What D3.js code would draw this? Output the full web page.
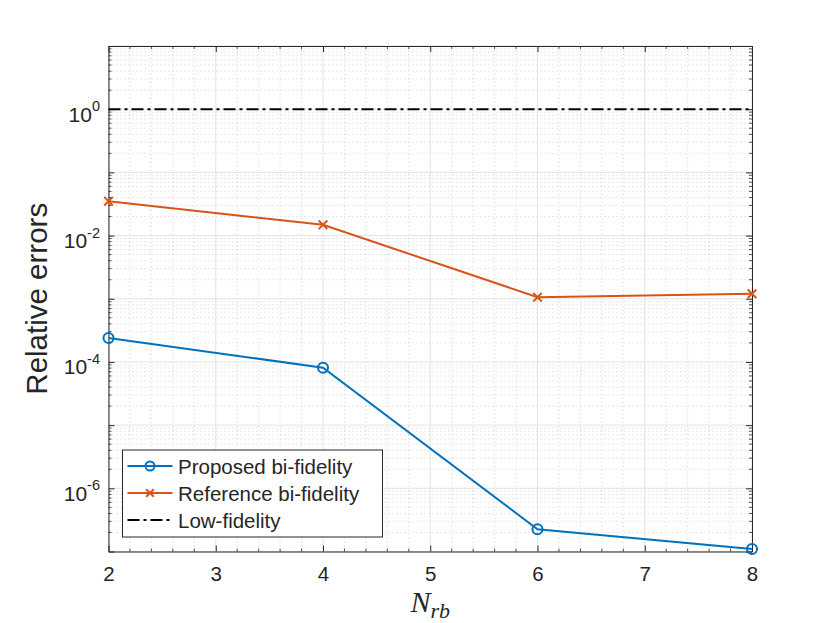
<!DOCTYPE html>
<html>
<head>
<meta charset="utf-8">
<script src="https://cdn.jsdelivr.net/npm/d3@7"></script>
<style>
  body { margin: 0; background: #fff; }
  text { font-family: "Liberation Sans", Arial, sans-serif; fill: #262626; }
</style>
</head>
<body>
<div class="chart"></div>
<script>
// data
const nrb = [2, 4, 6, 8];
const proposed = [2.4e-4, 8.1e-5, 2.25e-7, 1.1e-7];
const reference = [0.035, 0.0148, 1.06e-3, 1.2e-3];
const lowFidelity = [1, 1, 1, 1];
const xTicks = [2, 3, 4, 5, 6, 7, 8];
const yTicks = [1e-6, 1e-4, 1e-2, 1e0];
const seriesNames = ['Proposed bi-fidelity', 'Reference bi-fidelity', 'Low-fidelity'];

const W = 830, H = 623;
const mLeft = 108.5, mRight = 752, mTop = 46, mBottom = 551.5;
const axisColor = '#262626';

const x = d3.scaleLinear().domain([2, 8]).range([mLeft, mRight]);
const y = d3.scaleLog().domain([1e-7, 1e1]).range([mBottom, mTop]);

const svg = d3.select('.chart').append('svg')
  .attr('width', W).attr('height', H);

// grid
const grid = svg.append('g');
const xMinor = d3.range(2, 8.001, 0.2).filter(v => Math.abs(v - Math.round(v)) > 1e-6);
const yMinor = [];
for (let e = -7; e < 1; e++) for (let m = 2; m <= 9; m++) yMinor.push(m * Math.pow(10, e));

grid.selectAll('.xm').data(xMinor).enter().append('line')
  .attr('x1', d => x(d)).attr('x2', d => x(d))
  .attr('y1', mTop).attr('y2', mBottom)
  .attr('stroke', '#bdbdbd').attr('stroke-width', 0.7).attr('stroke-dasharray', '1,3');
grid.selectAll('.ym').data(yMinor).enter().append('line')
  .attr('x1', mLeft).attr('x2', mRight)
  .attr('y1', d => y(d)).attr('y2', d => y(d))
  .attr('stroke', '#bdbdbd').attr('stroke-width', 0.7).attr('stroke-dasharray', '1,3');
grid.selectAll('.xM').data(xTicks).enter().append('line')
  .attr('x1', d => x(d)).attr('x2', d => x(d))
  .attr('y1', mTop).attr('y2', mBottom)
  .attr('stroke', '#dcdcdc').attr('stroke-width', 0.8);
const yMajorAll = d3.range(-7, 2).map(e => Math.pow(10, e));
grid.selectAll('.yM').data(yMajorAll).enter().append('line')
  .attr('x1', mLeft).attr('x2', mRight)
  .attr('y1', d => y(d)).attr('y2', d => y(d))
  .attr('stroke', '#dcdcdc').attr('stroke-width', 0.8);

// axes with inward ticks on all four sides
svg.append('g').attr('transform', `translate(0,${mBottom})`)
  .call(d3.axisBottom(x).tickValues(xTicks).tickSizeInner(-6).tickSizeOuter(0).tickFormat(d3.format('d')).tickPadding(15))
  .call(g => g.select('.domain').attr('stroke', axisColor))
  .call(g => g.selectAll('line').attr('stroke', axisColor))
  .call(g => g.selectAll('text').attr('font-size', 20.5).attr('fill', axisColor)
    .attr('font-family', '"Liberation Sans", Arial, sans-serif'));
svg.append('g').attr('transform', `translate(0,${mTop})`)
  .call(d3.axisTop(x).tickValues(xTicks).tickSizeInner(-6).tickSizeOuter(0).tickFormat(''))
  .call(g => g.select('.domain').attr('stroke', axisColor))
  .call(g => g.selectAll('line').attr('stroke', axisColor));
svg.append('g').attr('transform', `translate(${mLeft},0)`)
  .call(d3.axisLeft(y).tickValues(yMajorAll).tickSizeInner(-6).tickSizeOuter(0).tickFormat(''))
  .call(g => g.select('.domain').attr('stroke', axisColor))
  .call(g => g.selectAll('line').attr('stroke', axisColor));
svg.append('g').attr('transform', `translate(${mRight},0)`)
  .call(d3.axisRight(y).tickValues(yMajorAll).tickSizeInner(-6).tickSizeOuter(0).tickFormat(''))
  .call(g => g.select('.domain').attr('stroke', axisColor))
  .call(g => g.selectAll('line').attr('stroke', axisColor));

// minor ticks
const minorTicks = svg.append('g').attr('stroke', axisColor).attr('stroke-width', 0.8);
minorTicks.selectAll('.l').data(yMinor).enter().append('line')
  .attr('x1', mLeft).attr('x2', mLeft + 3).attr('y1', d => y(d)).attr('y2', d => y(d));
minorTicks.selectAll('.r').data(yMinor).enter().append('line')
  .attr('x1', mRight).attr('x2', mRight - 3).attr('y1', d => y(d)).attr('y2', d => y(d));
minorTicks.selectAll('.b').data(xMinor).enter().append('line')
  .attr('x1', d => x(d)).attr('x2', d => x(d)).attr('y1', mBottom).attr('y2', mBottom - 3);
minorTicks.selectAll('.t').data(xMinor).enter().append('line')
  .attr('x1', d => x(d)).attr('x2', d => x(d)).attr('y1', mTop).attr('y2', mTop + 3);

// y tick labels 10^n
const yl = svg.append('g').selectAll('text').data(yTicks).enter().append('text')
  .attr('x', mLeft - 8.5).attr('y', d => y(d) + 12.5)
  .attr('text-anchor', 'end').attr('font-size', 21);
yl.append('tspan').text('10');
yl.append('tspan').attr('dy', -10.5).attr('font-size', 14.5).text(d => Math.round(Math.log10(d)));

// axis labels
svg.append('text')
  .attr('transform', `translate(47,${(mTop + mBottom) / 2}) rotate(-90)`)
  .attr('text-anchor', 'middle').attr('font-size', 29.5)
  .text('Relative errors');
const xl = svg.append('text')
  .attr('x', (mLeft + mRight) / 2).attr('y', 612)
  .attr('text-anchor', 'middle')
  .style('font-family', '"Liberation Serif", "Times New Roman", serif')
  .style('font-style', 'italic').attr('font-size', 30);
xl.append('tspan').text('N');
xl.append('tspan').attr('dy', 6).attr('font-size', 22).text('rb');

// series
const line = d3.line().x((d, i) => x(nrb[i])).y(d => y(d));
const plot = svg.append('g');
plot.append('path').datum(lowFidelity).attr('d', line)
  .attr('fill', 'none').attr('stroke', '#000').attr('stroke-width', 2)
  .attr('stroke-dasharray', '12,4,3,4');
plot.append('path').datum(reference).attr('d', line)
  .attr('fill', 'none').attr('stroke', '#D95319').attr('stroke-width', 2);
plot.append('path').datum(proposed).attr('d', line)
  .attr('fill', 'none').attr('stroke', '#0072BD').attr('stroke-width', 2);

const cross = d3.symbol().type(d3.symbolX).size(50);
plot.selectAll('.rx').data(reference).enter().append('path')
  .attr('d', cross)
  .attr('transform', (d, i) => `translate(${x(nrb[i])},${y(d)})`)
  .attr('stroke', '#D95319').attr('stroke-width', 2).attr('fill', 'none');
plot.selectAll('.po').data(proposed).enter().append('circle')
  .attr('cx', (d, i) => x(nrb[i])).attr('cy', d => y(d)).attr('r', 5)
  .attr('stroke', '#0072BD').attr('stroke-width', 2).attr('fill', 'none');

// legend
const lg = svg.append('g').attr('transform', 'translate(122.5,450)');
lg.append('rect').attr('width', 260).attr('height', 87)
  .attr('fill', '#fff').attr('stroke', axisColor).attr('stroke-width', 1);
const colors = ['#0072BD', '#D95319', '#000'];
const dashes = [null, null, '12,4,3,4'];
const items = lg.selectAll('.item').data(seriesNames).enter().append('g')
  .attr('transform', (d, i) => `translate(0,${16 + i * 27})`);
items.append('line').attr('x1', 5).attr('x2', 50).attr('y1', 0).attr('y2', 0)
  .attr('stroke', (d, i) => colors[i]).attr('stroke-width', 2)
  .attr('stroke-dasharray', (d, i) => dashes[i]);
items.filter((d, i) => i === 0).append('circle')
  .attr('cx', 27.5).attr('cy', 0).attr('r', 4.5)
  .attr('fill', 'none').attr('stroke', colors[0]).attr('stroke-width', 2);
items.filter((d, i) => i === 1).append('path')
  .attr('d', d3.symbol().type(d3.symbolX).size(40))
  .attr('transform', 'translate(27.5,0)')
  .attr('fill', 'none').attr('stroke', colors[1]).attr('stroke-width', 2);
items.append('text').attr('x', 55.5).attr('y', 7.5).attr('font-size', 20.5)
  .attr('fill', '#000').text(d => d);
</script>
</body>
</html>
